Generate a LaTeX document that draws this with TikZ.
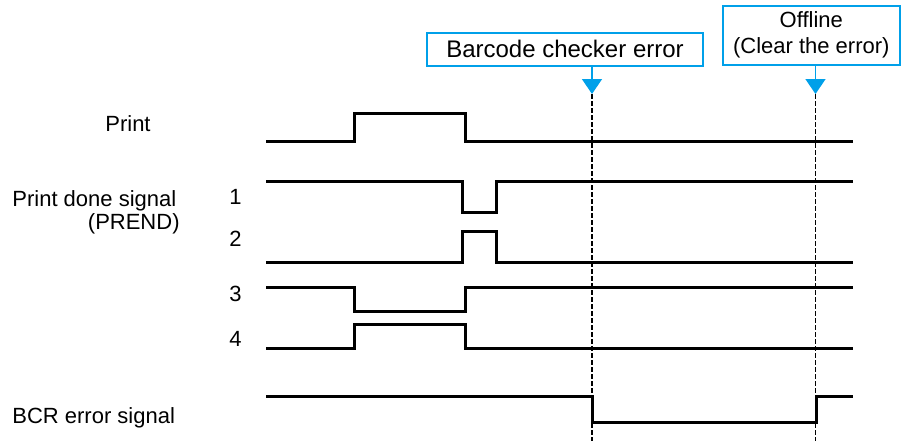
\documentclass[tikz,border=0pt]{standalone}
\usepackage{fontspec}
\setmainfont{Liberation Sans}
\usepackage{tikz}
\usetikzlibrary{arrows.meta,positioning}
\definecolor{evblue}{RGB}{0,160,233}

\begin{document}
\begin{tikzpicture}[x=0.5pt,y=-0.5pt,
  sig/.style={line width=1.5pt,line join=miter},
  evbox/.style={draw=evblue,line width=1pt,inner sep=0pt,align=center,
                font=\fontsize{11}{13}\selectfont},
  evarr/.style={-{Triangle[width=10pt,length=7.5pt]},draw=evblue,fill=evblue,line width=0.75pt},
  guide/.style={dash pattern=on 2.5pt off 1pt,line width=0.75pt},
  lbl/.style={font=\fontsize{11}{13}\selectfont,inner sep=0pt}
]
\useasboundingbox (0,0) rectangle (902,445);

\node[lbl,anchor=base] (print) at (128,131.5) {Print};
\node[lbl,anchor=base west] (prend) at (12,206) {Print done signal};
\node[lbl,anchor=base east] (prendb) at (180,229) {(PREND)};
\node[lbl,anchor=base] (n1) at (235.5,204) {1};
\node[lbl,anchor=base] (n2) at (235.5,246) {2};
\node[lbl,anchor=base] (n3) at (235.5,301) {3};
\node[lbl,anchor=base] (n4) at (235.5,346) {4};
\node[lbl,anchor=base west] (bcr) at (12,423) {BCR error signal};

\node[evbox,font=\fontsize{12}{14}\selectfont,minimum width=138pt,minimum height=16.25pt] (bce) at (565,49.3) {Barcode checker error};
\node[evbox,minimum width=88.7pt,minimum height=29.7pt] (off) at (811.3,35.3) {Offline\\(Clear the error)};

\coordinate (e1) at (592,94);
\coordinate (e2) at (815.5,94);
\draw[evarr] (bce.south -| e1) -- (e1);
\draw[evarr] (off.south -| e2) -- (e2);
\draw[guide] (e1) -- (592,441);
\draw[guide] (e2) -- (815.5,441);

\draw[sig] (266,141.7) -| (354,113.3) -| (465,141.7) -- (853,141.7);
\draw[sig] (266,181) -| (462,212) -| (496,181) -- (853,181);
\draw[sig] (266,262) -| (462,231.7) -| (496,262) -- (853,262);
\draw[sig] (266,287.3) -| (354.3,311.7) -| (465,287.3) -- (853,287.3);
\draw[sig] (266,348.3) -| (354,324) -| (465,348.3) -- (853,348.3);
\draw[sig] (266,396.7) -| (592,422.3) -| (816,396.7) -- (853,396.7);
\end{tikzpicture}
\end{document}
